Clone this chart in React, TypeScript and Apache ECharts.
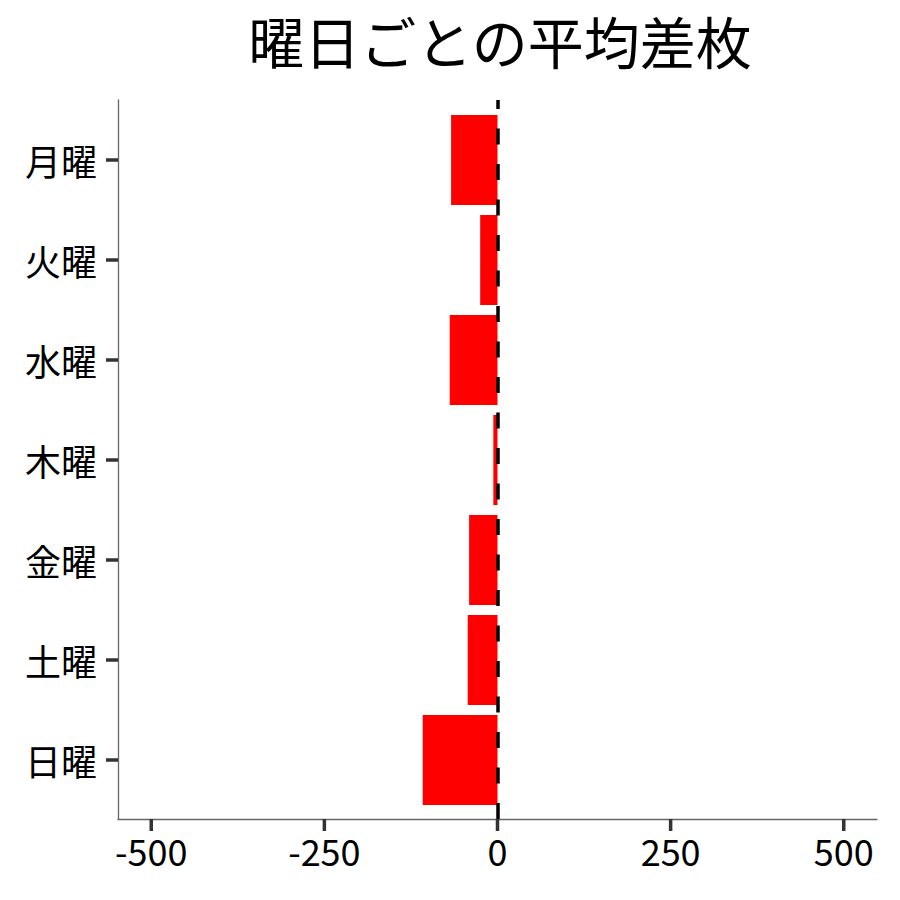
import React, { useEffect, useRef } from "react";
import * as echarts from "echarts";

const days = ["月曜", "火曜", "水曜", "木曜", "金曜", "土曜", "日曜"];
const avgDiff = [-67, -25, -69, -6, -41, -43, -108];
const xTickValues = [-500, -250, 0, 250, 500];
const titleText = "曜日ごとの平均差枚";

const FONT = "'Noto Sans CJK JP', 'Noto Sans', sans-serif";
const X_MIN = -548;
const X_MAX = 548;

const PLOT_L = 118;
const PLOT_R = 877;
const W = 900;
const TICK_LEN = 12;

export default function App() {
  const ref = useRef<HTMLDivElement>(null);
  useEffect(() => {
    if (!ref.current) return;
    const chart = echarts.init(ref.current, null, { renderer: "svg" });
    chart.setOption({
      animation: false,
      backgroundColor: "#ffffff",
      title: {
        text: titleText,
        left: 495,
        top: 6,
        textAlign: "center",
        textStyle: { fontFamily: FONT, fontSize: 56, fontWeight: "normal", color: "#000" },
      },
      grid: [
        { left: PLOT_L, right: W - PLOT_R, top: 110, bottom: 90, containLabel: false },
        { left: PLOT_L, right: W - PLOT_R, top: 100, bottom: 81, containLabel: false },
      ],
      xAxis: [
        {
          gridIndex: 0,
          type: "value",
          min: X_MIN,
          max: X_MAX,
          show: false,
          splitLine: { show: false },
        },
        {
          gridIndex: 1,
          type: "value",
          min: X_MIN,
          max: X_MAX,
          splitLine: { show: false },
          axisLine: { show: true, onZero: false, lineStyle: { color: "#666", width: 1.3 } },
          axisTick: { show: false },
          axisLabel: {
            customValues: xTickValues,
            fontFamily: FONT,
            fontSize: 36,
            color: "#000",
            margin: 13,
          },
        },
      ],
      yAxis: [
        {
          gridIndex: 0,
          type: "category",
          data: days,
          inverse: true,
          axisLine: { show: false, onZero: false },
          axisTick: {
            show: true,
            alignWithLabel: true,
            length: TICK_LEN,
            lineStyle: { color: "#333", width: 3.5 },
          },
          axisLabel: { fontFamily: FONT, fontSize: 36, color: "#000", margin: 21 },
          splitLine: { show: false },
        },
        {
          gridIndex: 1,
          type: "value",
          min: 0,
          max: 1,
          axisLine: { show: true, onZero: false, lineStyle: { color: "#666", width: 1.3 } },
          axisTick: { show: false },
          axisLabel: { show: false },
          splitLine: { show: false },
        },
      ],
      series: [
        {
          type: "bar",
          xAxisIndex: 0,
          yAxisIndex: 0,
          data: avgDiff,
          barCategoryGap: "10%",
          itemStyle: { color: "#ff0000" },
        },
        {
          type: "line",
          xAxisIndex: 1,
          yAxisIndex: 1,
          data: [],
          markLine: {
            silent: true,
            symbol: "none",
            label: { show: false },
            lineStyle: { color: "#000", width: 3.5, type: [16, 19.5] },
            data: [{ xAxis: 0 }],
          },
        },
      ],
    });

    // x-axis tick marks: positions come from the axis scale via convertToPixel
    const tickGraphics = xTickValues.map((v) => {
      const p = chart.convertToPixel({ xAxisIndex: 1, yAxisIndex: 1 }, [v, 0]) as number[];
      return {
        type: "line",
        silent: true,
        z: 100,
        shape: { x1: p[0], y1: p[1], x2: p[0], y2: p[1] + TICK_LEN },
        style: { stroke: "#333", lineWidth: 3.5 },
      };
    });
    chart.setOption({ graphic: tickGraphics });

    return () => chart.dispose();
  }, []);
  return (
    <div
      ref={ref}
      style={{ position: "fixed", left: 0, top: 0, width: 900, height: 900 }}
    />
  );
}
